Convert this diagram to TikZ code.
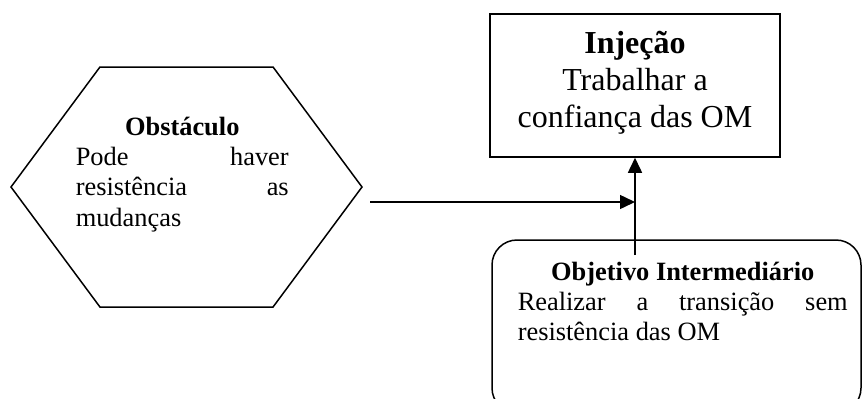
\documentclass[tikz,border=0pt]{standalone}
\usepackage{fontspec}
\setmainfont{Liberation Serif}
\usetikzlibrary{arrows.meta,shapes.symbols,positioning}
\tikzset{
  caixa/.style={draw,rectangle,inner sep=0pt},
  texto/.style={inner sep=0pt,font=\fontsize{26.4}{30.4}\selectfont},
}

\begin{document}
\begin{tikzpicture}[x=1pt,y=-1pt,->,>={Triangle[length=15pt,width=14pt]},line width=1.5pt]
        \useasboundingbox (0,0) rectangle (863,399);

        % formas
        \node[draw,shape=signal,signal to=west and east,signal pointer angle=106.9,
              minimum width=351pt,minimum height=240pt,inner sep=0pt] (obst) at (186.5,187) {};
        \node[caixa,minimum width=290pt,minimum height=143pt] (inj) at (635,85.5) {};
        \node[caixa,rounded corners=25pt,minimum width=369pt,minimum height=173pt] (obj) at (676.5,326.5) {};

        % textos
        \node[texto,text width=213pt,align=justify,anchor=base west] (obsttxt) at (75,135)
            {\hfill\textbf{Obstáculo}\hfill\null\\ Pode\hfill haver\\ resistência\hfill as\\ mudanças};
        \node[texto,font=\fontsize{32}{36.8}\selectfont,align=center,anchor=base] (injtxt) at (635,127)
            {\textbf{Injeção}\\ Trabalhar a\\ confiança das OM};
        \node[texto,text width=330pt,align=justify,anchor=base west] (objtxt) at (517,280)
            {\hfill\textbf{Objetivo Intermediário}\hfill\null\\ Realizar\hfill a\hfill transição\hfill sem\\ resistência das OM};

        \coordinate (vini) at (635,255);
        \coordinate (hini) at (370,202);
        \path
        (vini) edge (inj.south)
        (hini) edge (hini -| inj.south)
        ;
    \end{tikzpicture}
\end{document}
